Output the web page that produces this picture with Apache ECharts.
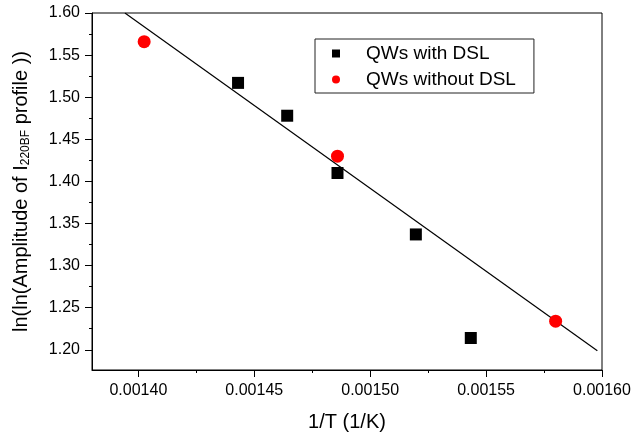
<!DOCTYPE html>
<html>
<head>
<meta charset="utf-8">
<script src="https://cdn.jsdelivr.net/npm/echarts@6/dist/echarts.min.js"></script>
<style>html,body{margin:0;padding:0;background:#fff;}#c{width:643px;height:437px;}</style>
</head>
<body>
<div id="c"></div>
<script>
// Data
const withDSL_x = [0.001443, 0.0014642, 0.0014859, 0.0015197, 0.0015434];
const withDSL_y = [1.517, 1.478, 1.410, 1.337, 1.214];
const withoutDSL_x = [0.0014025, 0.0014859, 0.00158];
const withoutDSL_y = [1.566, 1.430, 1.234];
const fit_x = [0.0013942, 0.001598];
const fit_y = [1.600, 1.1988];
const xMajorTicks = [0.0014, 0.00145, 0.0015, 0.00155, 0.0016];
const xMinorTicks = [0.001425, 0.001475, 0.001525, 0.001575];
const yMajorTicks = [1.20, 1.25, 1.30, 1.35, 1.40, 1.45, 1.50, 1.55, 1.60];
const yMinorTicks = [1.225, 1.275, 1.325, 1.375, 1.425, 1.475, 1.525, 1.575];
const seriesNames = ['QWs with DSL', 'QWs without DSL'];

const FONT = 'Liberation Sans, Arial, Helvetica, sans-serif';
const zip = (a, b) => a.map((v, i) => [v, b[i]]);
const X_MIN = 0.00138, X_MAX = 0.0016, Y_MIN = 1.176, Y_MAX = 1.60;

const chart = echarts.init(document.getElementById('c'), null, {renderer: 'canvas'});
chart.setOption({
  animation: false,
  backgroundColor: '#fff',
  grid: {left: 92, right: 41, top: 13, bottom: 64, show: true, borderColor: '#000', borderWidth: 1, backgroundColor: 'transparent'},
  legend: {
    orient: 'vertical', left: 315, top: 39,
    data: [{name: seriesNames[0], icon: 'rect'}, {name: seriesNames[1], icon: 'circle'}],
    itemWidth: 8, itemHeight: 8, itemGap: 7,
    borderColor: '#222', borderWidth: 1, borderRadius: 0,
    padding: [5, 18, 4, 17],
    textStyle: {fontFamily: FONT, fontSize: 19, color: '#000', padding: [0, 0, 0, 21]},
  },
  xAxis: [{
    type: 'value', min: X_MIN, max: X_MAX, position: 'bottom',
    name: '1/T (1/K)', nameLocation: 'middle', nameGap: 42,
    nameTextStyle: {fontFamily: FONT, fontSize: 20, color: '#000'},
    axisLine: {show: true, onZero: false, lineStyle: {color: '#000', width: 1}},
    axisTick: {show: true, inside: false, length: 7, customValues: xMajorTicks, lineStyle: {color: '#000'}},
    axisLabel: {show: true, margin: 13, customValues: xMajorTicks, fontFamily: FONT, fontSize: 16, color: '#000',
      formatter: v => v.toFixed(5)},
    splitLine: {show: false}
  }, {
    type: 'value', min: X_MIN, max: X_MAX, position: 'bottom',
    axisLine: {show: false, onZero: false},
    axisTick: {show: true, inside: false, length: 3, customValues: xMinorTicks, lineStyle: {color: '#000'}},
    axisLabel: {show: false}, splitLine: {show: false}
  }],
  yAxis: [{
    type: 'value', min: Y_MIN, max: Y_MAX, position: 'left',
    name: 'ln(ln(Amplitude of I{s|220BF} profile ))', nameLocation: 'middle', nameGap: 60,
    nameTextStyle: {fontFamily: FONT, fontSize: 20, color: '#000',
      rich: {s: {fontFamily: FONT, fontSize: 12, color: '#000', padding: [10, 0, 0, 0], verticalAlign: 'bottom'}}},
    axisLine: {show: true, onZero: false, lineStyle: {color: '#000', width: 1}},
    axisTick: {show: true, inside: false, length: 7, customValues: yMajorTicks, lineStyle: {color: '#000'}},
    axisLabel: {show: true, margin: 12, customValues: yMajorTicks, fontFamily: FONT, fontSize: 16, color: '#000',
      formatter: v => v.toFixed(2)},
    splitLine: {show: false}
  }, {
    type: 'value', min: Y_MIN, max: Y_MAX, position: 'left',
    axisLine: {show: false, onZero: false},
    axisTick: {show: true, inside: false, length: 3, customValues: yMinorTicks, lineStyle: {color: '#000'}},
    axisLabel: {show: false}, splitLine: {show: false}
  }],
  series: [{
    name: 'fit', type: 'line', data: zip(fit_x, fit_y), showSymbol: false, symbol: 'none',
    lineStyle: {color: '#000', width: 1.2}, clip: true, z: 1, silent: true
  }, {
    name: seriesNames[0], type: 'scatter', data: zip(withDSL_x, withDSL_y),
    symbol: 'rect', symbolSize: 12, itemStyle: {color: '#000', opacity: 1}, z: 3
  }, {
    name: seriesNames[1], type: 'scatter', data: zip(withoutDSL_x, withoutDSL_y),
    symbol: 'circle', symbolSize: 13, itemStyle: {color: '#ff0000', opacity: 1}, z: 4
  }]
});
</script>
</body>
</html>
